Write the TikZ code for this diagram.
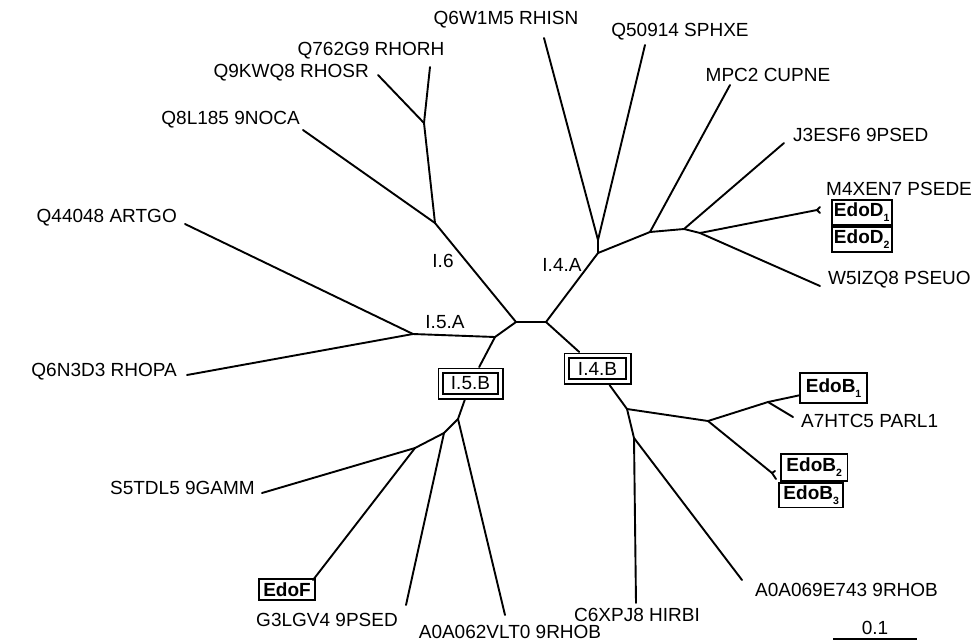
\documentclass[tikz,border=0pt]{standalone}
\usepackage{fontspec}
\setmainfont{Liberation Sans}
\newcommand\edosub[1]{\raisebox{-5pt}{\fontsize{10.5}{10.5}\selectfont #1}}
\begin{document}
\begin{tikzpicture}[x=1pt,y=-1pt,
  branch/.style={line width=1.9pt, line cap=round, line join=round},
  taxon/.style={font=\fontsize{19}{22}\selectfont, inner sep=0pt},
  cladelbl/.style={font=\fontsize{19}{22}\selectfont, inner sep=0pt},
  cladebox/.style={draw, line width=1.8pt, double, double distance=2.8pt,
    inner sep=0pt, outer sep=3.7pt, font=\fontsize{19}{22}\selectfont},
  edobox/.style={draw, line width=1.8pt, inner sep=0pt, outer sep=0.9pt,
    font=\fontsize{19}{22}\selectfont\bfseries}]
\useasboundingbox (0,0) rectangle (972,641);

% ---- internal nodes -------------------------------------------------
\coordinate (c1) at (516,322);
\coordinate (c2) at (546,322);
\coordinate (j5) at (495,337);
\coordinate (j5a) at (413,334);
\coordinate (j6) at (435,223);
\coordinate (j6b) at (424,123);
\coordinate (j4a) at (598,253);
\coordinate (j4a2) at (598,240);
\coordinate (j4b) at (650,232);
\coordinate (j4c) at (684,229);
\coordinate (j4d) at (700,233);
\coordinate (dfork) at (817,210);
\coordinate (k1) at (458,419);
\coordinate (k6) at (444,433);
\coordinate (k7) at (415,448);
\coordinate (k2) at (627,409);
\coordinate (k3) at (708,421);
\coordinate (k4) at (768,402);
\coordinate (k5) at (634,438);
\coordinate (bfork) at (772,473);

% ---- leaf ends ------------------------------------------------------
\coordinate (lq44048) at (185,224);
\coordinate (lq6n3d3) at (187,375);
\coordinate (lq762g9) at (430,67);
\coordinate (lq9kwq8) at (378,75);
\coordinate (lq8l185) at (303,130);
\coordinate (lq6w1m5) at (544,38);
\coordinate (lq50914) at (645,45);
\coordinate (lmpc2) at (730,85);
\coordinate (lj3esf6) at (784,143);
\coordinate (ld1) at (820,207);
\coordinate (ld2) at (820,213);
\coordinate (lw5izq8) at (820,286);
\coordinate (la7htc5) at (793,417);
\coordinate (lb2) at (775,471);
\coordinate (lb3) at (776,479);
\coordinate (lc6xpj8) at (636,603);
\coordinate (la0a069) at (742,580);
\coordinate (la0a062) at (505,615);
\coordinate (lg3lgv4) at (406,605);
\coordinate (ls5tdl5) at (262,493);
\coordinate (ledof) at (313,580);

% ---- taxon labels ---------------------------------------------------
\node[taxon] (tq6w1m5) at (506,20) {Q6W1M5 RHISN};
\node[taxon] (tq50914) at (680,32) {Q50914 SPHXE};
\node[taxon] (tq762g9) at (371,51) {Q762G9 RHORH};
\node[taxon, anchor=east] (tq9kwq8) at (369,73) {Q9KWQ8 RHOSR};
\node[taxon] (tmpc2) at (768,75) {MPC2 CUPNE};
\node[taxon, anchor=east] (tq8l185) at (300,120) {Q8L185 9NOCA};
\node[taxon, anchor=west] (tj3esf6) at (793,135) {J3ESF6 9PSED};
\node[taxon, anchor=west] (tm4xen7) at (826,189) {M4XEN7 PSEDE};
\node[taxon, anchor=east] (tq44048) at (177,218) {Q44048 ARTGO};
\node[taxon, anchor=west] (tw5izq8) at (828,280) {W5IZQ8 PSEUO};
\node[taxon, anchor=east] (tq6n3d3) at (177,372) {Q6N3D3 RHOPA};
\node[taxon, anchor=west] (ta7htc5) at (801,421) {A7HTC5 PARL1};
\node[taxon, anchor=east] (ts5tdl5) at (255,488) {S5TDL5 9GAMM};
\node[taxon, anchor=west] (ta0a069) at (755,590) {A0A069E743 9RHOB};
\node[taxon] (tg3lgv4) at (327,620) {G3LGV4 9PSED};
\node[taxon] (ta0a062) at (510,632) {A0A062VLT0 9RHOB};
\node[taxon] (tc6xpj8) at (637,615) {C6XPJ8 HIRBI};

% ---- clade labels ---------------------------------------------------
\node[cladelbl] (l15a) at (445,322) {I.5.A};
\node[cladelbl] (l16) at (443,261) {I.6};
\node[cladelbl] (l14a) at (562,265) {I.4.A};
\node[cladebox, minimum width=59.6pt, minimum height=25.6pt] (i5b) at (470.5,383.5) {I.5.B};
\node[cladebox, minimum width=61.6pt, minimum height=25.6pt] (i4b) at (597.5,368.5) {I.4.B};

% ---- highlighted sequences -----------------------------------------
\node[edobox, minimum width=60.2pt, minimum height=24.9pt] (edod1) at (861.7,212.6) {EdoD\edosub{1}};
\node[edobox, minimum width=60.2pt, minimum height=24.9pt] (edod2) at (861.7,239.4) {EdoD\edosub{2}};
\node[edobox, minimum width=67.2pt, minimum height=30.5pt] (edob1) at (833.6,388) {EdoB\edosub{1}};
\node[edobox, minimum width=66.5pt, minimum height=27.2pt] (edob2) at (814.2,467.2) {EdoB\edosub{2}};
\node[edobox, minimum width=64pt, minimum height=24.8pt] (edob3) at (811.2,495) {EdoB\edosub{3}};
\node[edobox, minimum width=56.2pt, minimum height=21.2pt] (edof) at (287,589.5) {EdoF};

% ---- branches -------------------------------------------------------
\draw[branch] (c1) -- (c2);
\draw[branch] (c1) -- (j5);
\draw[branch] (j5) -- (j5a);
\draw[branch] (j5a) -- (lq44048);
\draw[branch] (j5a) -- (lq6n3d3);
\draw[branch] (c1) -- (j6);
\draw[branch] (j6) -- (j6b);
\draw[branch] (j6b) -- (lq762g9);
\draw[branch] (j6b) -- (lq9kwq8);
\draw[branch] (j6) -- (lq8l185);
\draw[branch] (c2) -- (j4a);
\draw[branch] (j4a) -- (j4a2);
\draw[branch] (j4a2) -- (lq6w1m5);
\draw[branch] (j4a2) -- (lq50914);
\draw[branch] (j4a) -- (j4b);
\draw[branch] (j4b) -- (lmpc2);
\draw[branch] (j4b) -- (j4c);
\draw[branch] (j4c) -- (lj3esf6);
\draw[branch] (j4c) -- (j4d);
\draw[branch] (j4d) -- (dfork);
\draw[branch] (dfork) -- (ld1);
\draw[branch] (dfork) -- (ld2);
\draw[branch] (j4d) -- (lw5izq8);
% clade I.5.B
\draw[branch] (j5) -- (i5b);
\draw[branch] (i5b) -- (k1);
\draw[branch] (k1) -- (la0a062);
\draw[branch] (k1) -- (k6);
\draw[branch] (k6) -- (lg3lgv4);
\draw[branch] (k6) -- (k7);
\draw[branch] (k7) -- (ls5tdl5);
\draw[branch] (k7) -- (ledof);
% clade I.4.B
\draw[branch] (c2) -- (i4b);
\draw[branch] (i4b) -- (k2);
\draw[branch] (k2) -- (k3);
\draw[branch] (k3) -- (k4);
\draw[branch] (k4) -- (edob1);
\draw[branch] (k4) -- (la7htc5);
\draw[branch] (k3) -- (bfork);
\draw[branch] (bfork) -- (lb2);
\draw[branch] (bfork) -- (lb3);
\draw[branch] (k2) -- (k5);
\draw[branch] (k5) -- (lc6xpj8);
\draw[branch] (k5) -- (la0a069);

% ---- scale bar ------------------------------------------------------
\coordinate (sb1) at (833,639);
\coordinate (sb2) at (917,639);
\draw[line width=1.9pt] (sb1) -- (sb2);
\node[taxon] (sbl) at (875,628) {0.1};
\end{tikzpicture}
\end{document}
